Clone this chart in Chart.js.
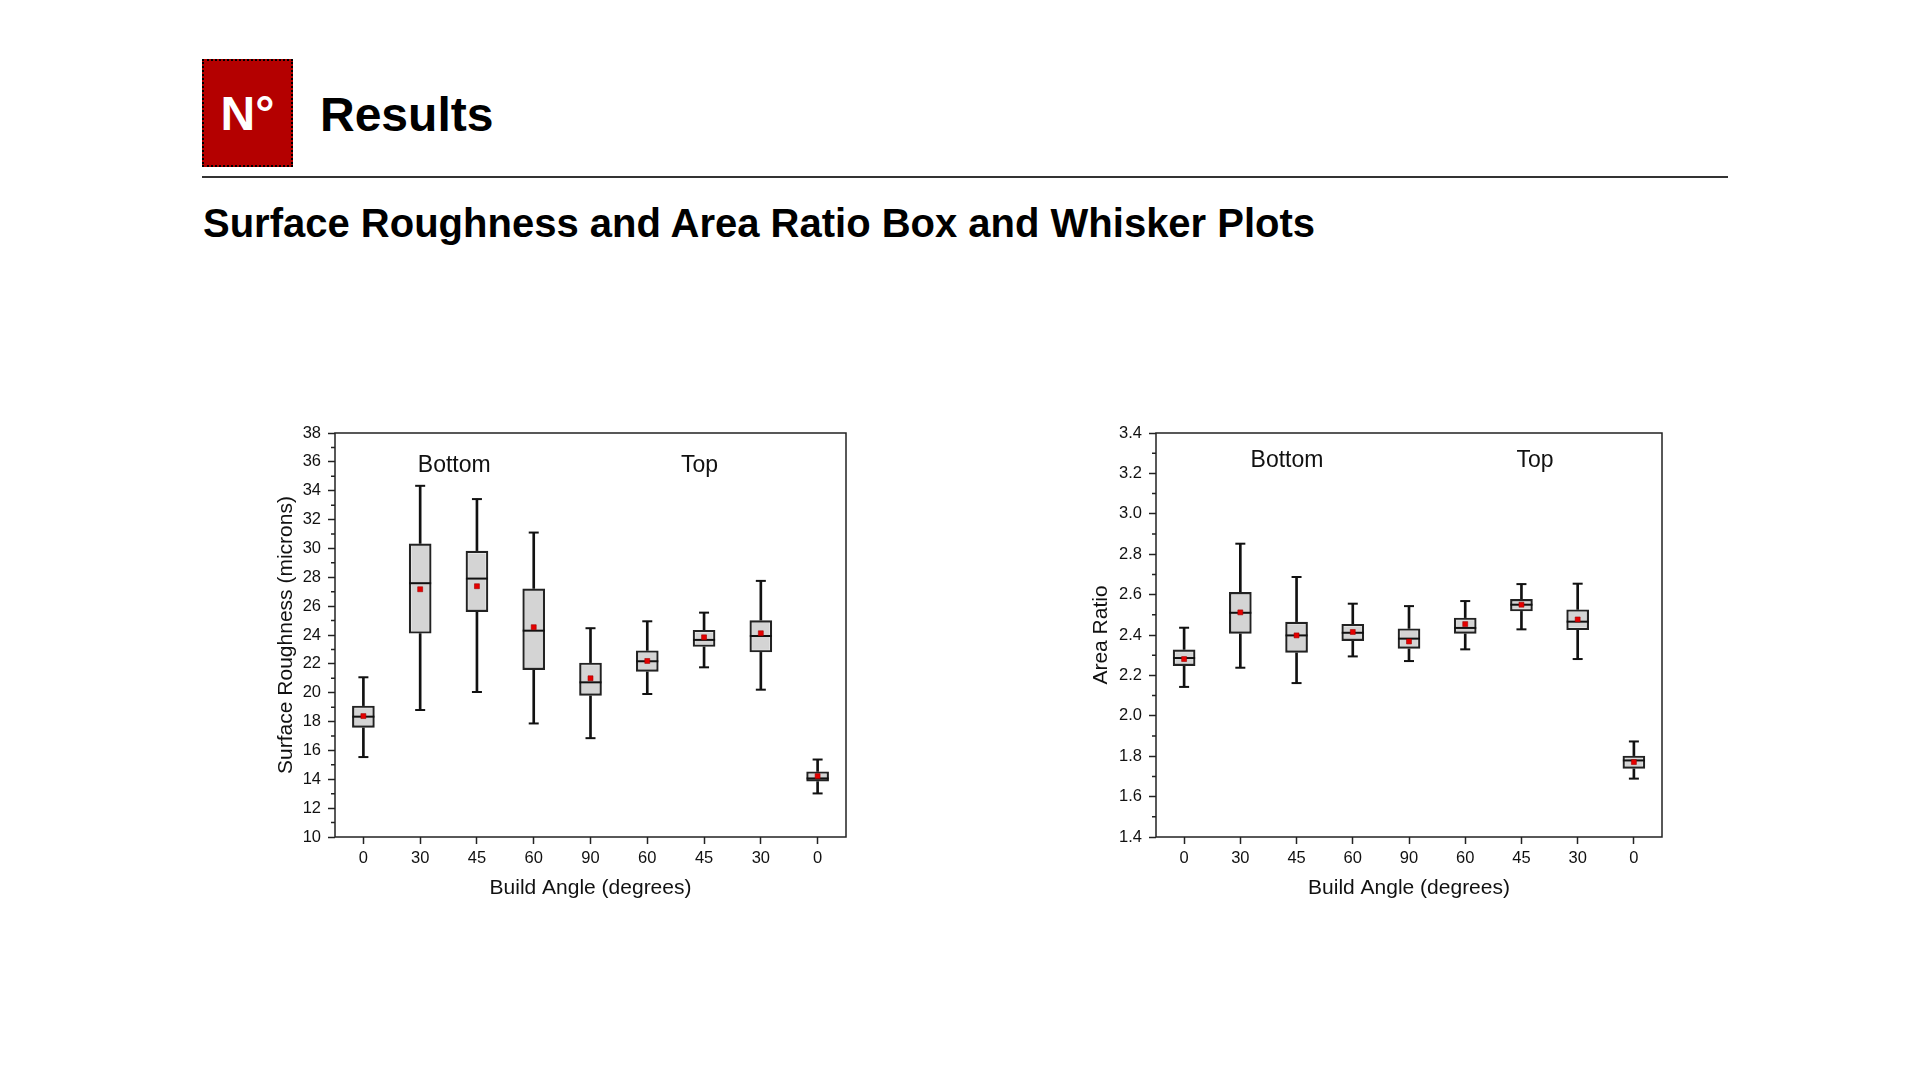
<!DOCTYPE html>
<html>
<head>
<meta charset="utf-8">
<script src="https://cdn.jsdelivr.net/npm/chart.js@4.4.1/dist/chart.umd.min.js"></script>
<style>
  body { margin: 0; width: 1920px; height: 1080px; background: #fff; position: relative; overflow: hidden;
         font-family: "Liberation Sans", Arial, sans-serif; color: #000; }
  #badge { position: absolute; left: 202px; top: 59px; width: 87px; height: 104px; background: #b40000;
           border: 2px dotted #000; color: #fff; font-weight: bold; font-size: 48px;
           display: flex; align-items: center; justify-content: center; }
  #title { position: absolute; left: 320px; top: 91px; font-size: 48px; line-height: 48px; font-weight: bold; }
  #rule { position: absolute; left: 202px; top: 176px; width: 1526px; height: 2px; background: #333; }
  #subtitle { position: absolute; left: 203px; top: 203px; font-size: 40px; line-height: 40px; font-weight: bold; }
  .chartBox { position: absolute; top: 400px; height: 510px; }
  #roughBox { left: 270px; width: 596px; }
  #ratioBox { left: 1085px; width: 597px; }
</style>
</head>
<body>
<div id="badge">N°</div>
<div id="title">Results</div>
<div id="rule"></div>
<div id="subtitle">Surface Roughness and Area Ratio Box and Whisker Plots</div>
<div class="chartBox" id="roughBox"><canvas id="roughChart"></canvas></div>
<div class="chartBox" id="ratioBox"><canvas id="ratioChart"></canvas></div>
<script>
const angles = ["0", "30", "45", "60", "90", "60", "45", "30", "0"];

// surface roughness (microns)
const roughMin    = [15.54, 18.80, 20.05, 17.87, 16.85, 19.91, 21.76, 20.21, 13.02];
const roughQ1     = [17.60, 24.12, 25.62, 21.60, 19.82, 21.48, 23.20, 22.82, 13.87];
const roughMedian = [18.34, 27.59, 27.91, 24.30, 20.72, 22.18, 23.66, 23.93, 14.06];
const roughQ3     = [19.08, 30.32, 29.81, 27.20, 22.06, 22.91, 24.33, 25.00, 14.52];
const roughMax    = [21.07, 34.34, 33.42, 31.10, 24.47, 24.95, 25.55, 27.75, 15.37];
const roughMean   = [18.38, 27.17, 27.38, 24.54, 21.00, 22.20, 23.84, 24.12, 14.22];

// area ratio
const ratioMin    = [2.143, 2.238, 2.162, 2.294, 2.271, 2.329, 2.428, 2.281, 1.689];
const ratioQ1     = [2.248, 2.408, 2.314, 2.372, 2.334, 2.408, 2.519, 2.426, 1.740];
const ratioMedian = [2.286, 2.510, 2.398, 2.411, 2.382, 2.435, 2.550, 2.466, 1.779];
const ratioQ3     = [2.326, 2.611, 2.464, 2.453, 2.431, 2.484, 2.576, 2.525, 1.801];
const ratioMax    = [2.436, 2.852, 2.687, 2.555, 2.543, 2.568, 2.652, 2.654, 1.873];
const ratioMean   = [2.281, 2.512, 2.398, 2.415, 2.368, 2.454, 2.550, 2.477, 1.771];

const FONT = '"Liberation Sans", Arial, sans-serif';
Chart.defaults.font.family = FONT;
Chart.defaults.color = "#111";

// frame, minor ticks and the Bottom / Top labels
const decor = {
    id: "decor",
    afterDraw(chart, args, opts) {
        const ctx = chart.ctx;
        const a = chart.chartArea;
        const x = chart.scales.x, y = chart.scales.y;
        ctx.save();
        ctx.strokeStyle = "#222";
        ctx.lineWidth = 1.5;
        ctx.strokeRect(a.left, a.top, a.right - a.left, a.bottom - a.top);

        ctx.beginPath();
        const n = Math.round((y.max - y.min) / opts.minorStep);
        for (let i = 1; i < n; i += 2) {
            const py = y.getPixelForValue(y.min + i * opts.minorStep);
            ctx.moveTo(a.left - 4, py);
            ctx.lineTo(a.left, py);
        }
        ctx.stroke();

        ctx.fillStyle = "#111";
        ctx.font = "23px " + FONT;
        ctx.textAlign = "center";
        ctx.textBaseline = "middle";
        opts.labels.forEach(l => {
            ctx.fillText(l.text, x.getPixelForValue(l.x), y.getPixelForValue(l.y));
        });
        ctx.restore();
    }
};

function boxDatasets(mins, q1, med, q3, maxs, means) {
    const marker = { type: "line", showLine: false, pointHoverRadius: 0 };
    const boxes = q1.map((v, i) => [v, q3[i]]);
    return [
        { ...marker, data: means, pointStyle: "rect", pointRadius: 3.5,
          pointBackgroundColor: "#e60000", pointBorderColor: "#a00000", pointBorderWidth: 0.6, order: 1 },
        { ...marker, data: med, pointStyle: "line", pointRadius: 11,
          pointBorderColor: "#111", pointBorderWidth: 2, order: 2 },
        { ...marker, data: maxs, pointStyle: "line", pointRadius: 5,
          pointBorderColor: "#111", pointBorderWidth: 2, order: 3 },
        { ...marker, data: mins, pointStyle: "line", pointRadius: 5,
          pointBorderColor: "#111", pointBorderWidth: 2, order: 3 },
        // black outline on top of the white inner edge
        { type: "bar", data: boxes, backgroundColor: "rgba(0,0,0,0)",
          borderColor: "#222", borderWidth: 1.5, borderSkipped: false, barThickness: 22,
          grouped: false, order: 4 },
        { type: "bar", data: boxes, backgroundColor: "#d4d4d4",
          borderColor: "#f4f4f4", borderWidth: 2.6, borderSkipped: false, barThickness: 22,
          grouped: false, order: 5 },
        { type: "bar", data: mins.map((v, i) => [v, maxs[i]]), backgroundColor: "#111",
          borderWidth: 0, barThickness: 2, grouped: false, order: 6 }
    ];
}

function makeChart(id, datasets, yOpts, yTitle, yWidth, labels) {
    return new Chart(document.getElementById(id), {
        type: "bar",
        data: { labels: angles, datasets: datasets },
        options: {
            responsive: true,
            maintainAspectRatio: false,
            animation: false,
            events: [],
            layout: { padding: { top: 33, right: 20, bottom: 9, left: 0 } },
            plugins: {
                legend: { display: false },
                tooltip: { enabled: false },
                decor: { minorStep: yOpts.stepSize / 2, labels: labels }
            },
            scales: {
                x: {
                    ticks: { color: "#111", font: { size: 16.5 }, padding: 5, autoSkip: false, maxRotation: 0 },
                    grid: { offset: false, drawOnChartArea: false, tickLength: 7, tickColor: "#222", tickWidth: 1.5 },
                    border: { display: false },
                    title: { display: true, text: "Build Angle (degrees)", color: "#111",
                             font: { size: 21 }, padding: { top: 0, bottom: 0 } },
                    afterFit: s => { s.height = 64; }
                },
                y: {
                    min: yOpts.min,
                    max: yOpts.max,
                    ticks: { stepSize: yOpts.stepSize, color: "#111", font: { size: 16.5 }, padding: 7,
                             callback: yOpts.format },
                    grid: { drawOnChartArea: false, tickLength: 7, tickColor: "#222", tickWidth: 1.5 },
                    border: { display: false },
                    title: { display: true, text: yTitle, color: "#111",
                             font: { size: 21 }, padding: { top: 4, bottom: 0 } },
                    afterFit: s => { s.width = yWidth; }
                }
            }
        },
        plugins: [decor]
    });
}

makeChart("roughChart",
    boxDatasets(roughMin, roughQ1, roughMedian, roughQ3, roughMax, roughMean),
    { min: 10, max: 38, stepSize: 2, format: v => v },
    "Surface Roughness (microns)", 65,
    [{ text: "Bottom", x: 1.6, y: 35.75 }, { text: "Top", x: 5.92, y: 35.75 }]);

makeChart("ratioChart",
    boxDatasets(ratioMin, ratioQ1, ratioMedian, ratioQ3, ratioMax, ratioMean),
    { min: 1.4, max: 3.4, stepSize: 0.2, format: v => v.toFixed(1) },
    "Area Ratio", 71,
    [{ text: "Bottom", x: 1.83, y: 3.265 }, { text: "Top", x: 6.24, y: 3.265 }]);
</script>
</body>
</html>
